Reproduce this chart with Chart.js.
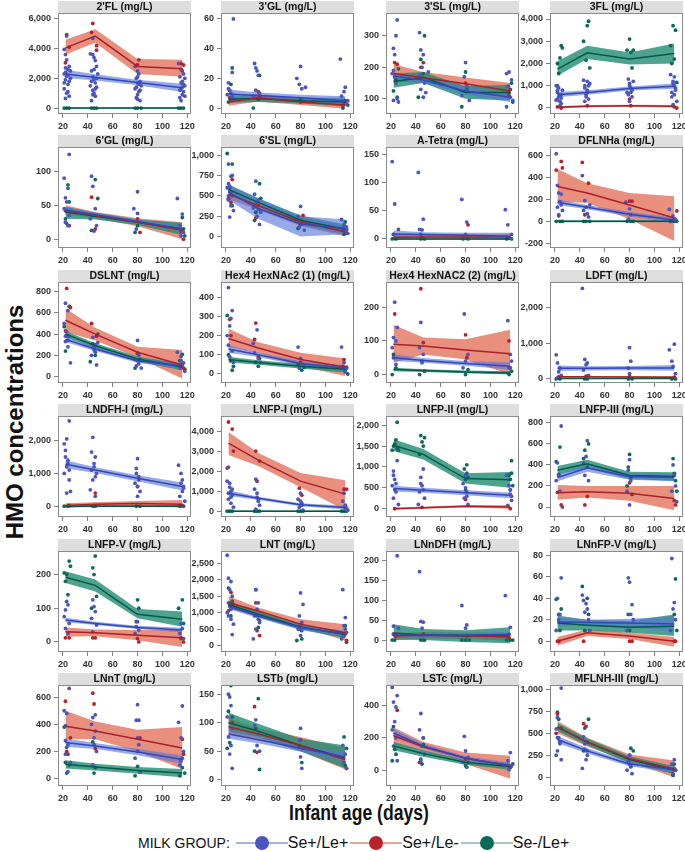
<!DOCTYPE html>
<html>
<head>
<meta charset="utf-8">
<script src="https://cdn.jsdelivr.net/npm/chart.js@4.4.1/dist/chart.umd.min.js"></script>
<style>
body{margin:0;width:685px;height:852px;overflow:hidden;background:#fff;position:relative;font-family:"Liberation Sans",Arial,sans-serif}
canvas{position:absolute}
#ylab{position:absolute;left:15px;top:422px;transform:translate(-50%,-50%) rotate(-90deg);font-weight:bold;font-size:24px;white-space:nowrap;color:#111}
#xlab{position:absolute;left:359px;top:813px;transform:translate(-50%,-50%) scaleX(0.8);font-weight:bold;font-size:22px;white-space:nowrap;color:#111}
#legend{position:absolute;left:138px;top:834px;height:18px;display:flex;align-items:center;color:#111;white-space:nowrap}
#legend .lg{font-size:14px;margin-right:6px}
#legend .lt{font-size:16px;margin-right:2px}
.key{display:inline-block;position:relative;width:52px;height:14px}
.key::before{content:"";position:absolute;left:0;right:0;top:6px;height:2px;background:var(--l)}
.key::after{content:"";position:absolute;left:19px;top:0;width:14px;height:14px;border-radius:50%;background:var(--c)}
</style>
</head>
<body>
<div id="ylab">HMO concentrations</div>
<div id="xlab">Infant age (days)</div>
<div id="legend"><span class="lg">MILK GROUP:</span><span class="key" style="--c:#4b55c0;--l:#aab0e4"></span><span class="lt">Se+/Le+</span><span class="key" style="--c:#b8232b;--l:#e8a59a"></span><span class="lt">Se+/Le-</span><span class="key" style="--c:#0b6b58;--l:#a9c6bf"></span><span class="lt">Se-/Le+</span></div>
<script>
// panel titles, left-to-right, top-to-bottom
const titles = ["2'FL (mg/L)", "3'GL (mg/L)", "3'SL (mg/L)", "3FL (mg/L)",
  "6'GL (mg/L)", "6'SL (mg/L)", "A-Tetra (mg/L)", "DFLNHa (mg/L)",
  "DSLNT (mg/L)", "Hex4 HexNAc2 (1) (mg/L)", "Hex4 HexNAC2 (2) (mg/L)", "LDFT (mg/L)",
  "LNDFH-I (mg/L)", "LNFP-I (mg/L)", "LNFP-II (mg/L)", "LNFP-III (mg/L)",
  "LNFP-V (mg/L)", "LNT (mg/L)", "LNnDFH (mg/L)", "LNnFP-V (mg/L)",
  "LNnT (mg/L)", "LSTb (mg/L)", "LSTc (mg/L)", "MFLNH-III (mg/L)"];

const xTicks = [20, 40, 60, 80, 100, 120];
const xRange = [16, 123];
const ages = [22, 46, 80, 116]; // visit ages where the fitted lines bend

const yTicks = [
  [0,2000,4000,6000], [0,20,40,60], [100,200,300], [0,1000,2000,3000,4000],
  [0,50,100], [0,250,500,750,1000], [0,50,100,150], [-200,0,200,400,600],
  [0,200,400,600,800], [0,100,200,300,400], [0,100,200], [0,1000,2000],
  [0,1000,2000], [0,1000,2000,3000,4000], [0,500,1000,1500,2000], [0,200,400,600,800],
  [0,100,200], [0,500,1000,1500,2000,2500], [0,50,100,150,200], [0,20,40,60,80],
  [0,200,400,600], [0,50,100,150], [0,200,400], [0,250,500,750,1000]];

const yRange = [
  [-400,6400], [-4,64], [52,372], [-270,4270],
  [-13,136], [-140,1100], [-16,163], [-245,682],
  [-60,890], [-47,479], [-25,275], [-115,2730],
  [-330,2750], [-290,4750], [-200,2220], [-95,865],
  [-30,270], [-200,2880], [-30,224], [-10,84],
  [-55,690], [-11,166], [-95,525], [-100,1050]];

// fitted means and 95% bands at the four ages
const blueFit = [
  [2300,2060,1720,1360], [9.5,8.5,7,5], [172,160,125,105], [600,700,880,980],
  [43,36,26,15], [545,345,155,100], [9,8,6.5,5], [175,130,65,12],
  [350,260,150,100], [130,100,55,30], [50,42,33,25], [300,300,305,310],
  [1280,1100,850,600], [900,640,320,180], [480,440,380,320], [280,370,290,280],
  [65,55,43,35], [1200,900,550,350], [12,12.5,13,14], [18,17.5,17,16],
  [265,240,195,140], [80,70,55,40], [230,150,75,30], [430,300,150,85]];
const blueLow = [
  [2020,1850,1530,1080], [6.5,6.5,5,2], [160,150,112,90], [480,600,790,860],
  [39,33,23,11], [450,220,0,30], [3,4,2,-1], [150,110,45,-10],
  [325,240,130,75], [110,88,43,15], [40,35,26,14], [220,240,245,230],
  [1160,1010,760,480], [760,560,250,90], [410,380,320,250], [245,335,260,245],
  [58,50,38,28], [1110,830,480,270], [7,8,8,8], [14,15,13,9],
  [235,218,172,110], [72,64,49,32], [205,135,62,12], [390,270,125,55]];
const blueHigh = [
  [2580,2270,1910,1640], [12.5,10.5,9,8], [184,170,138,120], [720,800,970,1100],
  [47,39,29,19], [640,470,250,210], [15,12,11,11], [200,150,85,35],
  [375,280,170,125], [150,112,67,45], [60,49,40,36], [380,360,365,390],
  [1400,1190,940,720], [1040,720,390,270], [550,500,440,390], [315,405,320,315],
  [72,60,48,42], [1290,970,620,430], [17,17,18,20], [22,20,21,23],
  [295,262,218,170], [88,76,61,48], [255,165,88,48], [470,330,175,115]];

const redFit = [
  [4050,4850,2800,2650], [4,7,4,2], [180,167,148,125], [30,80,100,80],
  [42,35,25,13], [520,380,180,60], [3,3.5,3.5,4], [320,260,150,30],
  [530,400,230,110], [185,135,75,35], [90,85,73,62], [60,58,55,50],
  [20,60,80,60], [3400,2550,1500,850], [0,20,60,40], [135,145,130,80],
  [30,27,20,12], [1300,1050,650,380], [10,12,11,8], [0,8,5,0],
  [385,350,290,225], [93,80,60,35], [215,145,75,30], [570,400,210,95]];
const redLow = [
  [3600,4400,2300,2100], [1.5,4.5,2,-0.5], [155,150,130,100], [-20,30,50,20],
  [36,31,19,0], [460,330,130,0], [-2,-1,-1,-1], [180,170,20,-180],
  [420,340,180,-20], [140,110,40,-10], [35,60,45,0], [35,35,30,20],
  [-60,0,10,-50], [2800,2250,1200,50], [-25,-5,30,0], [70,90,60,-30],
  [15,17,5,-15], [1100,950,550,150], [2,4,3,-2], [-4,5,2,-5],
  [290,290,200,70], [80,72,50,18], [160,120,40,-50], [500,350,170,0]];
const redHigh = [
  [4600,5300,3300,3250], [6.5,9.5,6,4.5], [210,185,168,150], [80,130,150,140],
  [50,40,31,25], [580,430,240,120], [8,8,8,9], [480,350,260,230],
  [640,460,280,250], [235,165,110,80], [148,110,105,133], [85,80,80,80],
  [90,120,160,190], [3950,2900,1900,1550], [25,45,90,80], [210,200,200,200],
  [43,37,35,35], [1500,1150,800,650], [18,20,19,18], [4,11,8,4],
  [500,420,360,380], [108,90,75,55], [265,175,110,90], [640,450,260,190]];

const greenFit = [
  [0,0,0,0], [6,6.5,5,4], [155,168,120,120], [1750,2480,2200,2450],
  [40,34,25,15], [580,420,200,90], [0,0,0,0], [0,0,0,0],
  [400,290,165,90], [75,60,40,25], [15,12,8,5], [10,10,10,10],
  [0,0,0,0], [0,0,0,0], [1520,1300,720,690], [350,410,300,290],
  [192,168,82,67], [1250,950,560,330], [18,13,10,12], [17,15,13,14],
  [105,85,60,40], [100,85,60,38], [150,105,50,25], [570,400,200,80]];
const greenLow = [
  [-40,-40,-40,-40], [3.5,4,3,1], [135,150,100,95], [1450,2200,1950,2000],
  [30,29,21,6], [520,370,140,30], [-1,-1,-1,-1], [-8,-8,-8,-8],
  [370,265,140,60], [60,48,28,8], [10,8,4,0], [0,0,0,0],
  [-25,-25,-25,-25], [-40,-40,-40,-40], [1380,1180,600,500], [310,370,265,250],
  [175,150,70,45], [1150,870,480,220], [0,0,-5,-8], [10,10,8,5],
  [75,60,35,10], [85,75,50,20], [125,85,35,5], [525,360,160,35]];
const greenHigh = [
  [40,40,40,40], [8.5,9,7,7], [180,185,140,145], [2100,2800,2500,2900],
  [48,39,29,24], [640,470,260,150], [1,1,1,1], [8,8,8,8],
  [430,315,190,120], [90,72,52,42], [20,16,12,10], [20,20,20,20],
  [25,25,25,25], [40,40,40,40], [1660,1430,850,880], [390,450,335,330],
  [210,185,98,90], [1350,1030,640,440], [40,28,25,32], [24,20,19,25],
  [135,110,85,70], [118,98,72,60], [175,125,65,45], [615,440,240,125]];

// individual samples, flat [age, value, age, value, ...]
const bluePts = [
  [21,3950,22,3600,23,3250,25,2800,24,2600,22,2400,21,2300,23,2150,26,2000,22,1900,25,1800,24,1600,21,1300,23,1000,25,800,22,650,23,4850,
   22,2700,24,2200,26,2500,21,1700,24,1100,
   42,3650,44,3600,45,3400,46,3200,47,2800,43,2500,48,2300,44,2100,45,1900,46,1700,42,1500,47,1400,44,1200,45,1000,46,800,43,500,44,4700,
   45,2600,43,1800,47,2000,46,1300,44,900,
   78,2800,80,2500,81,2300,79,2000,82,1800,80,1700,83,1500,78,1300,81,1100,79,700,80,600,82,500,
   80,2100,81,1600,79,1400,82,1200,80,900,
   113,3000,115,2600,117,2300,114,2100,116,1800,118,1500,115,1300,117,1100,116,900,114,700,115,500,118,2000,
   115,1700,116,1400,114,1200,117,1600,118,800],
  [22,17,23,12,24,10,25,8,26,60,25,24,22,13,21,9,26,6,43,30,44,27,45,25,46,22,44,12,47,10,42,8,
   80,28,77,20,79,16,81,13,84,14,112,33,116,14,115,11,113,8,117,3,118,5],
  [22,260,23,240,24,300,25,350,22,190,23,170,24,150,25,100,22,95,26,90,21,180,
   43,310,44,255,46,240,45,200,43,175,47,150,48,120,46,105,44,130,50,185,
   80,215,79,170,81,140,77,110,83,95,80,125,113,180,115,185,117,160,114,140,116,105,118,95,113,75],
  [21,1000,22,700,23,500,24,300,25,200,26,800,22,400,24,100,23,900,25,600,22,800,24,600,21,350,25,450,
   43,1250,44,1000,46,800,45,600,47,400,44,300,48,1100,46,1200,44,900,46,700,45,500,47,1000,
   79,1300,80,1100,81,900,78,700,82,500,80,300,83,1200,80,1000,81,700,79,600,82,800,
   113,1500,115,1200,116,1000,117,800,114,500,118,300,115,150,116,1400,115,1100,117,900,114,700,116,600],
  [21,90,25,125,24,75,22,61,23,55,21,45,25,35,22,25,24,20,43,93,44,78,46,45,42,30,47,20,45,12,
   80,70,77,45,80,38,82,25,79,15,112,60,116,37,114,20,117,10,115,5],
  [22,890,24,740,25,750,22,650,21,600,23,560,25,500,22,450,24,380,26,320,23,240,23,620,24,550,22,500,
   44,680,43,520,46,450,42,350,45,250,47,150,48,300,44,400,46,330,
   80,370,78,250,81,180,79,120,83,80,80,200,81,150,
   113,210,115,150,117,120,114,80,118,40,115,120,117,90],
  [21,137,23,62,26,17,22,8,42,118,43,17,45,16,46,35,44,8,77,70,81,30,80,8,78,3,112,52,114,25,117,8,116,1],
  [21,620,22,330,23,260,24,180,25,150,22,130,26,100,23,60,25,250,42,420,44,190,45,130,43,100,46,70,47,40,48,150,
   77,175,80,115,81,60,79,20,112,110,115,50,117,20,114,5],
  [22,690,24,620,21,500,23,420,25,380,22,330,24,280,26,130,22,380,24,340,
   44,370,46,300,45,250,43,200,47,110,48,320,45,280,46,230,
   80,340,81,200,78,160,79,100,83,80,80,150,81,120,
   112,230,115,190,117,130,114,80,118,50,116,100,115,150],
  [22,450,25,330,24,290,23,250,21,200,22,150,25,120,23,90,26,60,45,230,42,160,43,110,46,80,48,60,
   78,140,80,80,82,50,79,30,113,140,115,60,117,30,116,10],
  [23,215,22,110,24,100,21,80,25,140,22,50,24,30,44,155,43,80,46,60,45,35,47,10,
   79,180,82,60,80,40,78,20,114,160,116,60,117,40,115,20],
  [21,680,22,450,24,300,23,200,25,100,22,30,42,2550,44,550,45,400,43,250,47,100,46,450,
   80,880,81,500,79,300,80,150,112,820,116,980,114,500,115,350,117,150],
  [21,1900,23,2050,25,2600,22,1500,24,1300,21,1000,25,800,23,400,26,450,22,1700,24,1400,23,1200,25,1100,
   44,2100,43,1650,46,1500,45,1200,47,1000,44,800,42,500,46,300,45,1300,43,1100,46,900,
   80,1450,79,1150,81,900,78,700,82,450,80,300,79,1000,81,800,80,600,
   113,1250,115,1000,116,800,117,550,114,300,118,150,115,700,117,600,116,450],
  [22,2200,21,1500,23,1200,24,1000,25,800,22,600,24,400,26,200,23,1400,25,1100,22,900,24,700,
   44,1600,43,1100,45,900,46,600,47,300,44,100,45,700,46,500,
   80,900,78,600,81,400,79,200,82,50,80,500,81,300,
   114,500,116,300,117,150,118,50,115,900,116,250,117,100],
  [25,1150,22,900,23,700,21,550,24,400,22,250,26,100,22,800,24,600,23,450,
   46,950,44,750,45,550,43,400,47,250,42,100,44,600,46,450,
   80,800,78,600,81,400,79,250,82,100,80,500,81,300,
   113,800,115,550,116,350,117,200,114,80,116,450,117,300],
  [25,770,22,420,23,300,21,250,24,150,26,0,46,630,45,480,43,420,44,300,47,250,
   80,450,79,350,81,250,78,150,80,20,115,400,116,300,117,200,114,150,118,50],
  [23,120,24,110,22,95,21,75,25,55,22,40,24,25,44,125,45,105,46,90,43,70,47,50,44,30,
   80,60,79,45,81,35,78,25,115,55,116,40,114,25,117,10],
  [21,2750,22,2050,24,1950,23,1700,25,1500,22,1300,21,1000,24,800,26,650,25,330,23,1200,24,1100,22,900,
   44,1700,46,1300,45,1100,43,900,47,700,44,500,42,200,45,900,46,800,
   80,1600,79,900,81,700,82,1250,78,500,80,300,80,600,81,450,
   114,1700,116,850,115,600,117,400,113,200,116,500,115,300],
  [25,212,22,35,26,30,22,15,43,172,44,47,46,45,45,30,77,87,81,38,80,30,112,112,116,32,115,15],
  [22,40,25,59,24,25,23,20,21,10,42,43,43,38,45,35,46,30,44,27,47,20,48,10,
   79,59,80,55,82,34,81,25,83,20,78,10,114,77,116,36,115,30,117,20,113,10],
  [25,665,21,500,23,480,22,390,24,250,22,180,26,120,24,50,22,280,23,230,
   44,450,43,400,46,470,45,300,47,200,44,100,45,250,46,350,
   80,545,79,430,81,430,80,300,78,150,82,50,80,200,81,250,
   113,415,116,535,115,300,117,200,114,100,116,150,115,130],
  [22,150,23,145,24,130,21,110,25,90,22,75,24,60,23,45,25,20,44,105,43,95,46,80,45,60,47,50,
   80,90,79,70,82,55,80,40,81,20,114,60,116,45,115,30,117,20],
  [21,510,22,420,24,390,25,460,23,300,21,250,24,200,22,150,25,60,44,350,43,250,46,200,45,150,47,100,44,60,
   79,210,80,120,82,80,78,50,81,20,116,110,114,60,117,30,115,5],
  [25,1015,22,680,21,550,23,450,24,400,22,300,21,250,25,200,22,450,24,380,
   43,460,44,380,46,300,45,200,42,100,44,320,46,250,
   80,250,79,180,81,120,78,80,82,40,80,150,81,120,
   116,200,114,150,117,80,115,40,116,100]];

const redPts = [
  [22,3050,23,4950,25,4100,43,5100,44,5700,47,4200,47,3900,81,3250,80,2900,115,3000,117,2900,116,2500],
  [23,7,25,5,46,11,47,8,80,4,116,3,114,2],
  [23,215,25,210,46,215,44,200,80,150,116,130,115,110],
  [22,50,25,0,46,100,80,400,81,100,116,50,118,0],
  [22,42,25,20,43,62,46,15,80,30,82,10,115,12,117,0],
  [25,700,22,470,24,420,46,380,44,230,82,260,80,150,115,80,117,40],
  [22,8,82,25,45,3,115,2],
  [21,470,25,550,26,490,23,50,42,540,47,350,44,60,80,185,82,185,118,95,116,20],
  [23,830,26,650,22,430,43,500,47,380,80,220,116,120,117,80],
  [23,285,24,200,44,265,43,180,46,90,80,60,115,75,117,35],
  [23,180,44,255,46,95,80,118,81,50,115,100,116,20],
  [23,60,45,80,80,70,116,50],
  [25,20,46,400,80,600,116,20],
  [22,4450,25,4100,26,3000,21,2150,44,3000,45,1500,47,2500,79,1150,81,800,115,1100,117,1100,116,200],
  [23,0,45,30,80,220,116,0],
  [22,140,25,20,44,20,46,100,80,230,82,120,116,60,117,20],
  [22,12,25,12,44,12,46,12,81,0,80,10,115,12,117,0],
  [24,1620,26,1250,22,1050,44,1300,45,450,47,300,80,650,116,350,117,150],
  [22,15,24,10,46,15,81,10,115,5],
  [22,0,23,0,43,0,80,0,82,0,116,0,117,0],
  [22,570,23,200,26,300,24,180,44,630,45,550,46,220,80,200,82,300,116,290,117,180],
  [25,100,43,128,45,48,80,70,115,30,117,20],
  [25,370,43,50,46,200,80,70,116,20],
  [22,720,21,500,43,610,45,580,80,250,115,30]];

const greenPts = [
  [21,0,23,0,25,0,43,0,45,0,47,0,78,0,80,0,83,0,113,0,115,0,117,0],
  [22,4,25,27,47,22,42,0,24,16,46,6,80,6,116,5,118,2,114,0],
  [22,125,24,160,26,195,25,105,47,300,44,225,46,180,42,105,80,185,77,75,81,130,117,150,115,120,118,90],
  [22,2000,23,1550,24,2250,25,2800,26,2700,22,1000,43,3000,45,2150,46,3700,47,3900,48,1800,
   78,2600,80,3100,81,2500,82,1800,83,2600,113,2800,115,3700,117,3500,116,2200,118,1150,114,2000],
  [24,80,22,30,25,55,23,23,46,88,48,60,44,35,43,13,80,20,78,10,116,32,117,15,118,5],
  [21,1020,25,890,23,600,22,460,25,380,47,650,48,470,44,300,43,200,80,200,78,100,116,180,117,80,115,30],
  [21,0,24,0,44,0,47,0,78,0,82,0,113,0,117,0],
  [21,0,24,0,26,0,43,0,45,0,48,0,78,0,81,0,83,0,113,0,116,0,118,0],
  [25,660,21,470,24,380,22,240,48,400,44,310,46,200,42,140,80,220,82,160,78,80,116,210,114,150,118,70],
  [21,305,22,100,24,70,26,40,25,20,44,60,46,40,47,80,78,50,81,20,83,35,114,40,116,15,118,0],
  [22,60,24,20,21,0,45,40,43,0,47,10,80,0,82,15,115,0,117,10],
  [21,0,24,0,44,0,46,0,79,0,82,0,114,0,117,0],
  [21,0,24,0,44,0,46,0,79,0,82,0,114,0,117,0],
  [21,0,23,0,25,0,43,0,45,0,47,0,78,0,80,0,82,0,113,0,115,0,117,0],
  [25,2070,22,1500,24,1650,21,1400,26,1400,23,1550,25,1450,44,1750,47,1700,46,1500,43,1300,45,1600,
   81,1050,79,950,82,750,80,450,80,700,81,850,117,1150,115,800,116,450,118,550,116,700,117,850],
  [24,570,21,430,23,310,44,540,47,600,43,460,46,380,80,500,79,380,81,280,78,200,115,460,116,320,117,250,118,150],
  [21,205,23,200,25,240,26,225,22,180,24,140,46,255,44,220,45,200,47,135,43,100,80,125,81,100,79,60,116,125,113,100,117,55,115,10],
  [22,1750,25,1350,24,900,44,1700,47,750,46,550,79,500,81,200,77,150,116,600,115,300,117,100],
  [21,0,23,0,44,0,46,0,47,0,77,0,80,0,83,0,113,0,116,0,118,0],
  [21,39,23,25,25,30,24,10,42,51,46,40,47,25,44,10,79,25,80,10,117,58,116,25,118,10],
  [21,380,22,120,25,100,23,40,44,270,46,80,45,40,80,90,78,20,82,50,116,80,114,20,118,40],
  [24,165,22,120,25,110,23,65,21,55,46,142,44,90,43,50,47,18,79,60,81,30,115,75,117,55,116,25],
  [22,270,24,100,21,60,23,130,46,160,44,70,45,40,80,30,82,50,116,20,118,40],
  [22,740,23,660,25,560,24,400,47,660,44,560,46,400,43,300,81,330,83,300,79,180,116,150,117,80,115,20]];

const colLeft = [58, 221, 386, 550];
const rowTop = [1, 135, 270, 404, 539, 673];
const FONT = '"Liberation Sans", Arial, sans-serif';

const colors = {
  blue:  {pt: '#4b55c0', line: '#3646b2', band: 'rgba(86,118,218,0.62)'},
  red:   {pt: '#b8232b', line: '#a8202a', band: 'rgba(226,112,90,0.78)'},
  green: {pt: '#0b6b58', line: '#005a49', band: 'rgba(32,140,114,0.8)'}
};

const panelDeco = {
  id: 'panelDeco',
  beforeDraw(chart, args, opts) {
    const a = chart.chartArea, c = chart.ctx;
    c.save();
    c.fillStyle = '#dedede';
    c.fillRect(a.left, 0, a.right - a.left, a.top);
    c.fillStyle = '#111';
    c.font = 'bold 10.5px ' + FONT;
    c.textAlign = 'center';
    c.textBaseline = 'middle';
    c.fillText(opts.title, (a.left + a.right) / 2, a.top / 2 + 0.5);
    c.restore();
  },
  afterDraw(chart) {
    const a = chart.chartArea, c = chart.ctx;
    c.save();
    c.strokeStyle = '#8a8a8a';
    c.lineWidth = 1;
    c.strokeRect(a.left + 0.5, a.top + 0.5, a.right - a.left - 1, a.bottom - a.top - 1);
    c.restore();
  }
};

function atAges(vals) { return ages.map((a, k) => ({x: a, y: vals[k]})); }
function toPoints(flat) {
  const out = [];
  for (let k = 0; k < flat.length; k += 2) out.push({x: flat[k], y: flat[k + 1]});
  return out;
}
function fitLine(vals, col) {
  return {type: 'line', data: atAges(vals), borderColor: col.line, borderWidth: 1.5,
    pointRadius: 0, tension: 0, fill: false, showLine: true};
}
function dots(flat, col) {
  return {type: 'scatter', data: toPoints(flat), backgroundColor: col.pt, borderWidth: 0, pointRadius: 1.9};
}
function bandPair(hi, lo, col) {
  return [
    {type: 'line', data: atAges(hi), borderWidth: 0, pointRadius: 0, tension: 0, showLine: true,
      fill: '+1', backgroundColor: col.band},
    {type: 'line', data: atAges(lo), borderWidth: 0, pointRadius: 0, tension: 0, showLine: true, fill: false}
  ];
}

titles.forEach((title, i) => {
  const r = Math.floor(i / 4), c = i % 4;
  const cv = document.createElement('canvas');
  cv.width = 185; cv.height = 135;
  cv.style.left = (colLeft[c] - 44) + 'px';
  cv.style.top = rowTop[r] + 'px';
  cv.style.width = '185px'; cv.style.height = '135px';
  document.body.appendChild(cv);

  new Chart(cv, {
    type: 'scatter',
    data: {
      datasets: [
        fitLine(blueFit[i], colors.blue),
        fitLine(redFit[i], colors.red),
        fitLine(greenFit[i], colors.green),
        dots(bluePts[i], colors.blue),
        dots(redPts[i], colors.red),
        dots(greenPts[i], colors.green),
        ...bandPair(blueHigh[i], blueLow[i], colors.blue),
        ...bandPair(greenHigh[i], greenLow[i], colors.green),
        ...bandPair(redHigh[i], redLow[i], colors.red)
      ]
    },
    options: {
      responsive: false,
      devicePixelRatio: 1,
      animation: false,
      events: [],
      layout: {padding: {top: 12, right: 8, left: 0, bottom: 0}},
      plugins: {legend: {display: false}, tooltip: {enabled: false}, panelDeco: {title: title}},
      scales: {
        x: {
          type: 'linear', min: xRange[0], max: xRange[1],
          afterBuildTicks: s => { s.ticks = xTicks.map(v => ({value: v})); },
          afterFit: s => { s.height = 22; },
          ticks: {font: {size: 9, weight: 'bold', family: FONT}, color: '#333', padding: 3, maxRotation: 0},
          grid: {drawOnChartArea: false, drawTicks: true, tickLength: 4, color: '#808080'},
          border: {display: false}
        },
        y: {
          type: 'linear', min: yRange[i][0], max: yRange[i][1],
          afterBuildTicks: s => { s.ticks = yTicks[i].map(v => ({value: v})); },
          afterFit: s => { s.width = 44; },
          ticks: {font: {size: 9, weight: 'bold', family: FONT}, color: '#333', padding: 3,
            callback: v => v.toLocaleString('en-US')},
          grid: {drawOnChartArea: false, drawTicks: true, tickLength: 4, color: '#808080'},
          border: {display: false}
        }
      }
    },
    plugins: [panelDeco]
  });
});
</script>
</body>
</html>
